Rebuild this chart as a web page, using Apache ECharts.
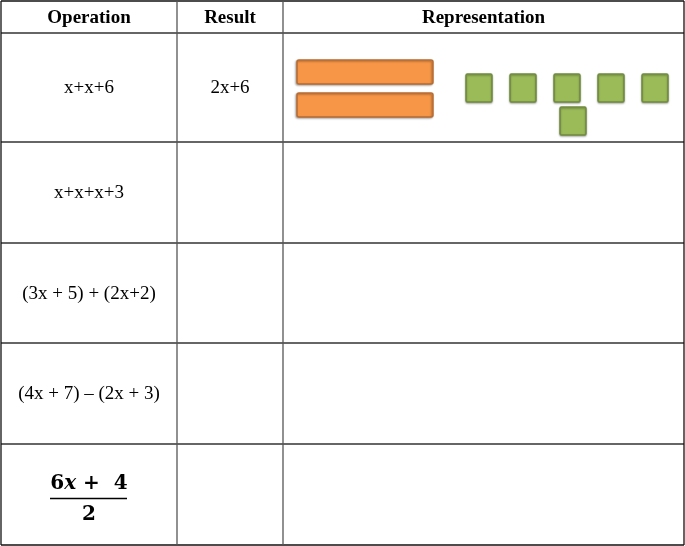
<!DOCTYPE html>
<html><head><meta charset="utf-8">
<script src="https://cdn.jsdelivr.net/npm/echarts@6/dist/echarts.min.js"></script>
<style>html,body{margin:0;padding:0;background:#fff}#c{width:685px;height:546px}</style>
</head><body><div id="c"></div>
<script>
// ---- data ----
const headers = ['Operation', 'Result', 'Representation'];
const operations = ['x+x+6', 'x+x+x+3', '(3x + 5) + (2x+2)', '(4x + 7) – (2x + 3)', ''];
const fractionNumerator = ['6', 'x', ' +  4'];
const fractionDenominator = '2';
const fractionRow = 4;
const results = ['2x+6', '', '', '', ''];
const rectCounts = [2, 0, 0, 0, 0];   // x-tiles
const unitCounts = [6, 0, 0, 0, 0];   // 1-tiles

// ---- layout ----
const W = 685, H = 546;
const colEdges = [1, 177, 283, 684];
const rowEdges = [1, 33, 142, 243, 343, 444, 545];
const serif = '"Liberation Serif", "Times New Roman", serif';

const chart = echarts.init(document.getElementById('c'), null, {renderer: 'canvas'});

function linesItem(params, api) {
  const ch = [];
  const p = (x, y) => api.coord([x, y]);
  rowEdges.forEach((y, k) => {
    const a = p(colEdges[0], y), b = p(colEdges[3], y);
    ch.push({type: 'line', shape: {x1: a[0], y1: a[1], x2: b[0], y2: b[1]},
      style: {stroke: (k === 0 || k === rowEdges.length - 1) ? '#111' : '#333', lineWidth: 1.3}});
  });
  colEdges.forEach((x, k) => {
    const a = p(x, rowEdges[0]), b = p(x, rowEdges[rowEdges.length - 1]);
    ch.push({type: 'line', shape: {x1: a[0], y1: a[1], x2: b[0], y2: b[1]},
      style: {stroke: (k === 0 || k === colEdges.length - 1) ? '#111' : '#555', lineWidth: 1.3}});
  });
  headers.forEach((h, k) => {
    const c = p((colEdges[k] + colEdges[k + 1]) / 2, (rowEdges[0] + rowEdges[1]) / 2);
    ch.push({type: 'text', style: {text: h, x: c[0], y: c[1] + 1, align: 'center', verticalAlign: 'middle',
      font: 'bold 19px ' + serif, fill: '#000'}});
  });
  return {type: 'group', children: ch};
}

function rowItem(params, api) {
  const i = api.value(0);
  const ch = [];
  const p = (x, y) => api.coord([x, y]);
  const top = rowEdges[i + 1], bot = rowEdges[i + 2];
  const cy = (top + bot) / 2;
  const c0 = p((colEdges[0] + colEdges[1]) / 2, cy);
  if (i === fractionRow) {
    const lineY = p(0, cy + 4)[1];
    const l = p(50, 0)[0], r = p(127, 0)[0];
    ch.push({type: 'text', style: {
      text: '{n|' + fractionNumerator[0] + '}{i|' + fractionNumerator[1] + '}{n|' + fractionNumerator[2] + '}',
      x: c0[0], y: lineY - 5, align: 'center', verticalAlign: 'bottom',
      rich: {n: {font: 'bold 20px "DejaVu Serif", serif', fill: '#000'},
             i: {font: 'bold italic 20px "DejaVu Serif", serif', fill: '#000'}}}});
    ch.push({type: 'line', shape: {x1: l, y1: lineY, x2: r, y2: lineY}, style: {stroke: '#000', lineWidth: 1.5}});
    ch.push({type: 'text', style: {text: fractionDenominator, x: c0[0], y: lineY + 6, align: 'center', verticalAlign: 'top',
      font: 'bold 20px "DejaVu Serif", serif', fill: '#000'}});
  } else {
    ch.push({type: 'text', style: {text: operations[i], x: c0[0], y: c0[1] + 1, align: 'center', verticalAlign: 'middle',
      font: '19px ' + serif, fill: '#000'}});
  }
  const c1 = p((colEdges[1] + colEdges[2]) / 2, cy);
  if (results[i]) ch.push({type: 'text', style: {text: results[i], x: c1[0], y: c1[1] + 1, align: 'center', verticalAlign: 'middle',
    font: '19px ' + serif, fill: '#000'}});
  const nr = rectCounts[i];
  for (let k = 0; k < nr; k++) {
    const a = p(297, top + 27 + k * 33), b = p(433, top + 27 + k * 33 + 24);
    ch.push({type: 'rect', shape: {x: a[0], y: a[1], width: b[0] - a[0], height: b[1] - a[1], r: 2},
      style: {fill: '#F79646', stroke: '#B86C33', lineWidth: 1.5, shadowBlur: 2, shadowColor: 'rgba(0,0,0,0.3)', shadowOffsetX: -1, shadowOffsetY: 1}});
  }
  const nu = unitCounts[i];
  for (let k = 0; k < nu; k++) {
    const row = Math.floor(k / 5), col = k % 5;
    const x0 = row === 0 ? 466 + col * 44 : 560 + col * 44;
    const y0 = top + 41 + row * 33;
    const a = p(x0, y0), b = p(x0 + 26, y0 + 28);
    ch.push({type: 'rect', shape: {x: a[0], y: a[1], width: b[0] - a[0], height: b[1] - a[1], r: 1.5},
      style: {fill: '#9BBB59', stroke: '#718B3F', lineWidth: 1.5, shadowBlur: 2, shadowColor: 'rgba(0,0,0,0.3)', shadowOffsetY: 1}});
  }
  return {type: 'group', children: ch};
}

chart.setOption({
  animation: false,
  backgroundColor: '#fff',
  grid: {left: 0, right: 0, top: 0, bottom: 0, containLabel: false},
  xAxis: {type: 'value', min: 0, max: W, show: false},
  yAxis: {type: 'value', min: 0, max: H, inverse: true, show: false},
  series: [
    {type: 'custom', renderItem: rowItem, data: operations.map((_, i) => [i]), silent: true, clip: false},
    {type: 'custom', renderItem: linesItem, data: [[0]], silent: true, clip: false, z: 3}
  ]
});
</script></body></html>
